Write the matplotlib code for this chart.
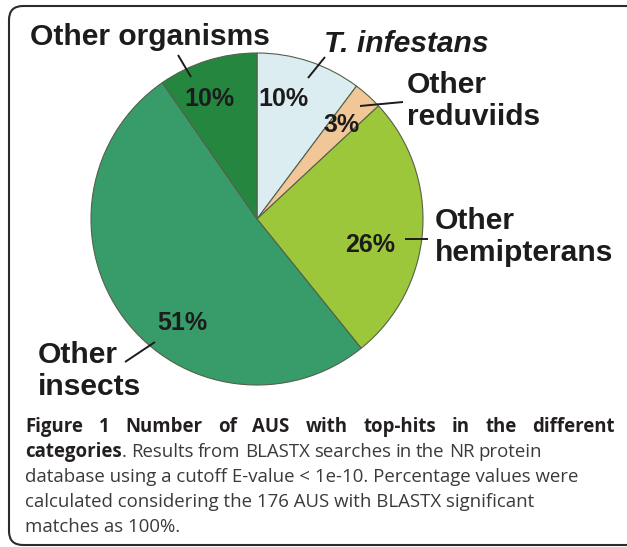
import matplotlib
matplotlib.use('Agg')
import matplotlib.pyplot as plt
from matplotlib.patches import FancyBboxPatch

W, H = 627, 547

# data: AUS top-hit counts (176 total)
categories = ['T. infestans', 'Other reduviids', 'Other hemipterans', 'Other insects', 'Other organisms']
counts = [18, 5, 46, 90, 17]
colors = ['#dcedf1', '#f2c797', '#9cc73a', '#379c69', '#25873f']

# label layout (pixels from top-left, baseline of the last line)
label_text = ['T. infestans', 'Other\nreduviids', 'Other\nhemipterans', 'Other\ninsects', 'Other organisms']
label_xy = [(406, 52), (407, 125), (435, 261), (38, 395), (150, 45)]
label_ha = ['center', 'left', 'left', 'left', 'center']
label_style = ['italic', 'normal', 'normal', 'normal', 'normal']
pct_xy = [(283, 106), (342, 132), (370, 252), (182, 330), (209, 106)]
leaders = [((325, 57), (308, 78)), ((403, 102), (360, 106)), ((428, 239), (405, 239)),
           ((125, 362), (155, 342)), ((178, 55), (191, 77))]

caption_bold = 'Figure 1 Number of AUS with top-hits in the different'
caption_lines = ['Results from BLASTX searches in the NR protein',
                 'database using a cutoff E-value < 1e-10. Percentage values were',
                 'calculated considering the 176 AUS with BLASTX significant',
                 'matches as 100%.']

fig = plt.figure(figsize=(W / 100, H / 100), dpi=100)
ax = fig.add_axes([0, 0, 1, 1])

total = sum(counts)
ax.pie(counts, colors=colors, startangle=90, counterclock=False,
       center=(257, H - 219), radius=166,
       wedgeprops=dict(edgecolor='#55604a', linewidth=0.8))
ax.set_xlim(0, W)
ax.set_ylim(0, H)
ax.set_aspect('auto')
ax.axis('off')

ink = '#1c1c1c'
for txt, (x, y), ha, st in zip(label_text, label_xy, label_ha, label_style):
    ax.text(x, H - y, txt, ha=ha, va='baseline', fontsize=21.6, fontweight='bold',
            fontstyle=st, family='Liberation Sans', color=ink, linespacing=1.2)

for c, (x, y) in zip(counts, pct_xy):
    ax.text(x, H - y, f'{round(c / total * 100)}%', ha='center', va='baseline',
            fontsize=18, fontweight='bold', family='Liberation Sans', color=ink)

for (x0, y0), (x1, y1) in leaders:
    ax.plot([x0, x1], [H - y0, H - y1], color=ink, lw=1.4, solid_capstyle='butt')

# border
ax.add_patch(FancyBboxPatch((9, 2), 640, 539, boxstyle='round,pad=0,rounding_size=14',
                            facecolor='none', edgecolor='#2b2b2b', lw=1.5))

# caption
cap_b = '#231f20'
cap = '#3a3a3a'
cfs = 13.4
fig.canvas.draw()
r = fig.canvas.get_renderer()

def width_of(t):
    return t.get_window_extent(renderer=r).width

def justify(objs, ws, left, right):
    gap = (right - left - sum(ws)) / (len(objs) - 1)
    x = left
    for o, w in zip(objs, ws):
        o.set_x(x)
        x += w + gap

left = 25
# first line, justified to full width
objs = [ax.text(0, H - 432, w, fontsize=cfs, fontweight='bold', family='Open Sans',
                color=cap_b, va='baseline') for w in caption_bold.split(' ')]
justify(objs, [width_of(o) for o in objs], left, 615)

# second line: bold "categories." then regular text, loosely spaced
b = ax.text(left, H - 457, 'categories', fontsize=cfs, fontweight='bold', family='Open Sans',
            color=cap_b, va='baseline')
bw = width_of(b)
dot = ax.text(left + bw, H - 457, '.', fontsize=cfs, family='Open Sans', color=cap,
              va='baseline')
head_w = bw + width_of(dot)
objs = [b] + [ax.text(0, H - 457, w, fontsize=cfs, family='Open Sans', color=cap,
                      va='baseline') for w in caption_lines[0].split(' ')]
justify(objs, [head_w] + [width_of(o) for o in objs[1:]], left, 542)

for i, line in enumerate(caption_lines[1:]):
    ax.text(left, H - (482 + 25 * i), line, fontsize=cfs, family='Open Sans',
            color=cap, va='baseline')

fig.savefig('out.png', dpi=100)
